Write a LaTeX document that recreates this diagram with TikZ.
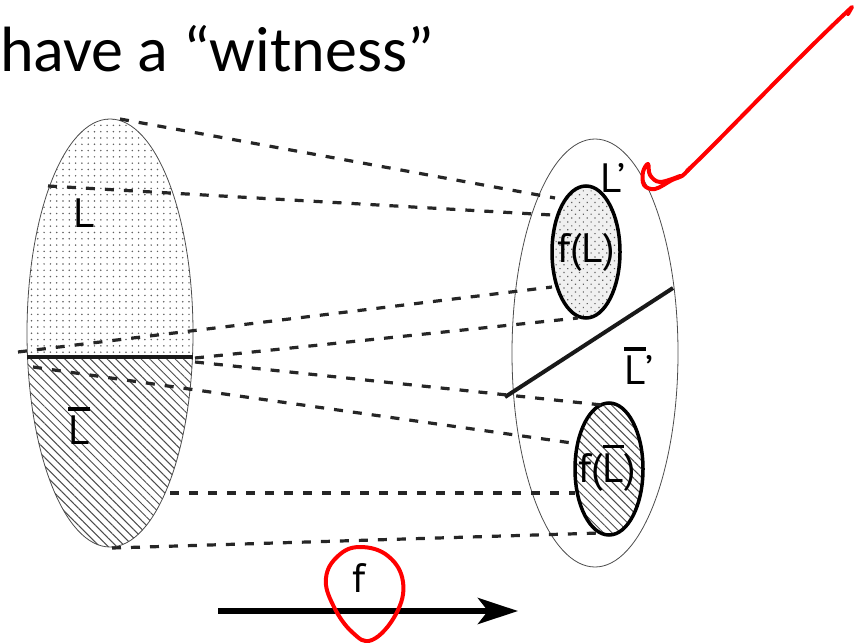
\documentclass[tikz,border=0pt]{standalone}
\usepackage{fontspec}
\setmainfont{PT Sans}
\newfontfamily\titlefont{Carlito}
\usetikzlibrary{arrows.meta, patterns.meta, shapes.geometric}
\tikzset{
  bigset/.style={ellipse, draw=gray!60!black, line width=0.8pt,
                 minimum width=166pt, minimum height=428pt, inner sep=0pt},
  imgset/.style={ellipse, draw, line width=3.5pt,
                 minimum width=68pt, minimum height=132pt, inner sep=0pt},
  lbl/.style={font=\fontsize{41}{41}\selectfont, inner sep=0pt},
  proj/.style={line width=3.2pt, dash pattern=on 9pt off 10pt, black!85},
  cut/.style={line width=4pt, black!90},
  dotfill/.style={pattern={Dots[distance=6.3pt, radius=0.85pt]}, pattern color=gray!75!black},
  densedots/.style={pattern={Dots[distance=5.5pt, radius=0.85pt, angle=45]}, pattern color=gray!75!black},
  hatchfill/.style={pattern={Lines[angle=-45, distance=6pt, line width=1pt]},
                    pattern color=gray!60!black},
  note/.style={red, line width=4pt, line cap=round, line join=round},
}
\newcommand{\negL}{\ooalign{\hfil\rule[0.83em]{0.52em}{0.09em}\hfil\cr L\cr}}

\begin{document}
\begin{tikzpicture}[x=1pt, y=-1pt]
  \useasboundingbox (0,0) rectangle (861,642);
  \node[anchor=base west, inner sep=0pt, font=\titlefont\fontsize{64}{64}\selectfont]
    (title) at (0,71) {have a “witness”};

  % domain: L above the cut, complement below
  \begin{scope}
    \clip (110,333) ellipse [x radius=83, y radius=214];
    \path[dotfill] (20,100) rectangle (200,357);
    \path[hatchfill] (20,357) rectangle (200,560);
  \end{scope}
  \node[bigset] (dom) at (110,333) {};
  \draw[line width=4.5pt, black!90] (dom.west |- 0,357) -- (dom.east |- 0,357);
  \node[lbl] (L) at (84,213) {L};
  \node[lbl] (Lc) at (79,426) {\negL};

  % range
  \node[bigset] (rng) at (595,353) {};
  \node[imgset, densedots, preaction={fill=gray!12}] (fL) at (586,252) {};
  \node[imgset, hatchfill] (fLc) at (609,469) {};
  \node[lbl] at (fL) {f(L)};
  \node[lbl] at (607,468) {f(\negL)};
  \node[lbl] (Lp) at (613,178) {L’};
  \node[lbl] (Lcp) at (639,366) {\negL’};
  \coordinate (cutA) at (505,397);
  \coordinate (cutB) at (673,288);
  \draw[cut] (cutA) -- (cutB);

  % projection lines
  \coordinate (s1) at (120,119);  \coordinate (t1) at (555,198);
  \coordinate (s2) at (48,186);   \coordinate (t2) at (552,215);
  \coordinate (s3) at (18,352);   \coordinate (t3) at (552,287);
  \coordinate (s4) at (195,358);  \coordinate (t4) at (578,318);
  \coordinate (s5) at (195,362);  \coordinate (t5) at (602,405);
  \coordinate (s6) at (33,367);   \coordinate (t6) at (572,443);
  \coordinate (s7) at (170,493);  \coordinate (t7) at (575,493);
  \coordinate (s8) at (112,548);  \coordinate (t8) at (600,533);
  \foreach \i in {1,...,8}
    \draw[proj] (s\i) -- (t\i);

  % the map
  \coordinate (mapS) at (218,611);
  \coordinate (mapE) at (518,611);
  \draw[line width=6pt, -{Stealth[length=40pt, width=26pt, inset=10pt]}] (mapS) -- (mapE);
  \node[lbl] (f) at (359,578) {f};

  % red annotations
  \draw[note] plot[smooth cycle, tension=0.7] coordinates
    {(360,547) (388,556) (403,582) (396,614) (372,640) (352,632) (333,605) (326,578) (338,556)};
  \draw[note] (848,14) -- (852,7)
    .. controls (790,65) and (720,140) .. (687,171);
  \draw[note] plot[smooth, tension=0.6] coordinates
    {(690,168) (682,176) (672,180) (655,189) (644,185) (643,172) (648,164) (650,175) (660,182) (680,176)};
\end{tikzpicture}
\end{document}
